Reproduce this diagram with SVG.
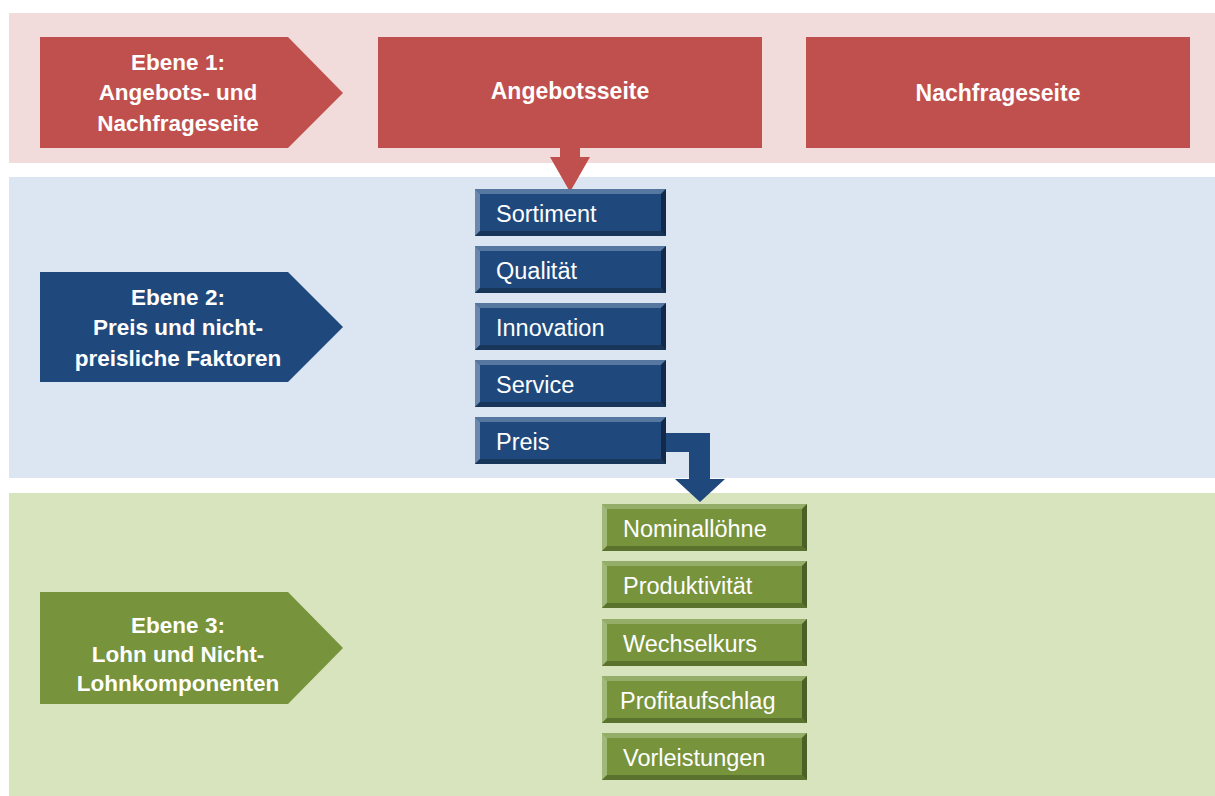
<svg xmlns="http://www.w3.org/2000/svg" xmlns:xlink="http://www.w3.org/1999/xlink" width="1215" height="796" viewBox="0 0 1215 796">
<style>
.lbl{font-family:"Liberation Sans",Arial,sans-serif;font-weight:bold;font-size:22.5px;fill:#fff;text-anchor:middle}
.hdr{font-family:"Liberation Sans",Arial,sans-serif;font-weight:bold;font-size:23px;fill:#fff;text-anchor:middle}
.itm{font-family:"Liberation Sans",Arial,sans-serif;font-size:23.5px;fill:#fff}
.red{fill:#c0504d}
.navy{fill:#1f497d}
.grn{fill:#77933c}
</style>
<defs>
<g id="bevBlue">
<rect x="0" y="0" width="191" height="47" fill="#1f497d"/>
<polygon points="0,0 191,0 186,5 5,5" fill="#56779f"/>
<polygon points="0,0 5,5 5,42 0,47" fill="#6a87ad"/>
<polygon points="0,47 5,42 186,42 191,47" fill="#173659"/>
<polygon points="191,0 191,47 186,42 186,5" fill="#12294a"/>
</g>
<g id="bevGreen">
<rect x="0" y="0" width="205" height="47" fill="#77933c"/>
<polygon points="0,0 205,0 200,5 5,5" fill="#94ad68"/>
<polygon points="0,0 5,5 5,42 0,47" fill="#a1b87a"/>
<polygon points="0,47 5,42 200,42 205,47" fill="#5b722e"/>
<polygon points="205,0 205,47 200,42 200,5" fill="#4b5f26"/>
</g>
</defs>
<rect width="1215" height="796" fill="#fff"/>
<g id="bands">
<rect x="9" y="13" width="1206" height="150" fill="#f2dcdb"/>
<rect x="9" y="177" width="1206" height="301" fill="#dce6f2"/>
<rect x="9" y="493" width="1206" height="303" fill="#d7e4bd"/>
</g>
<g id="ebene1">
<polygon class="red" points="40,37 288,37 343,93 288,148 40,148"/>
<text class="lbl" x="178" y="70">Ebene 1:</text>
<text class="lbl" x="178" y="100">Angebots- und</text>
<text class="lbl" x="178" y="131">Nachfrageseite</text>
</g>
<g id="angebotsseite">
<rect class="red" x="378" y="37" width="384" height="111"/>
<text class="hdr" x="570" y="99">Angebotsseite</text>
</g>
<g id="nachfrageseite">
<rect class="red" x="806" y="37" width="384" height="111"/>
<text class="hdr" x="998" y="101">Nachfrageseite</text>
</g>
<g id="ebene2">
<polygon class="navy" points="40,272 288,272 343,327 288,382 40,382"/>
<text class="lbl" x="178" y="305">Ebene 2:</text>
<text class="lbl" x="178" y="335">Preis und nicht-</text>
<text class="lbl" x="178" y="366">preisliche Faktoren</text>
</g>
<g id="ebene3">
<polygon class="grn" points="40,592 288,592 343,648 288,704 40,704"/>
<text class="lbl" x="178" y="633">Ebene 3:</text>
<text class="lbl" x="178" y="662">Lohn und Nicht-</text>
<text class="lbl" x="178" y="691">Lohnkomponenten</text>
</g>
<g id="connectors">
<polygon class="red" points="560,148 580,148 580,157 590,157 570,192 550,157 560,157"/>
<polygon class="navy" points="666,433 710,433 710,479 725,479 700,502 675,479 689,479 689,452 666,452"/>
</g>
<g id="sortiment"><use xlink:href="#bevBlue" x="475" y="189"/><text class="itm" x="496" y="222">Sortiment</text></g>
<g id="qualitaet"><use xlink:href="#bevBlue" x="475" y="246"/><text class="itm" x="496" y="279">Qualität</text></g>
<g id="innovation"><use xlink:href="#bevBlue" x="475" y="303"/><text class="itm" x="496" y="336">Innovation</text></g>
<g id="service"><use xlink:href="#bevBlue" x="475" y="360"/><text class="itm" x="496" y="393">Service</text></g>
<g id="preis"><use xlink:href="#bevBlue" x="475" y="417"/><text class="itm" x="496" y="450">Preis</text></g>
<g id="nominalloehne"><use xlink:href="#bevGreen" x="602" y="504"/><text class="itm" x="623" y="537">Nominallöhne</text></g>
<g id="produktivitaet"><use xlink:href="#bevGreen" x="602" y="561"/><text class="itm" x="623" y="594">Produktivität</text></g>
<g id="wechselkurs"><use xlink:href="#bevGreen" x="602" y="619"/><text class="itm" x="623" y="652">Wechselkurs</text></g>
<g id="profitaufschlag"><use xlink:href="#bevGreen" x="602" y="676"/><text class="itm" x="620" y="709">Profitaufschlag</text></g>
<g id="vorleistungen"><use xlink:href="#bevGreen" x="602" y="733"/><text class="itm" x="623" y="766">Vorleistungen</text></g>
</svg>
